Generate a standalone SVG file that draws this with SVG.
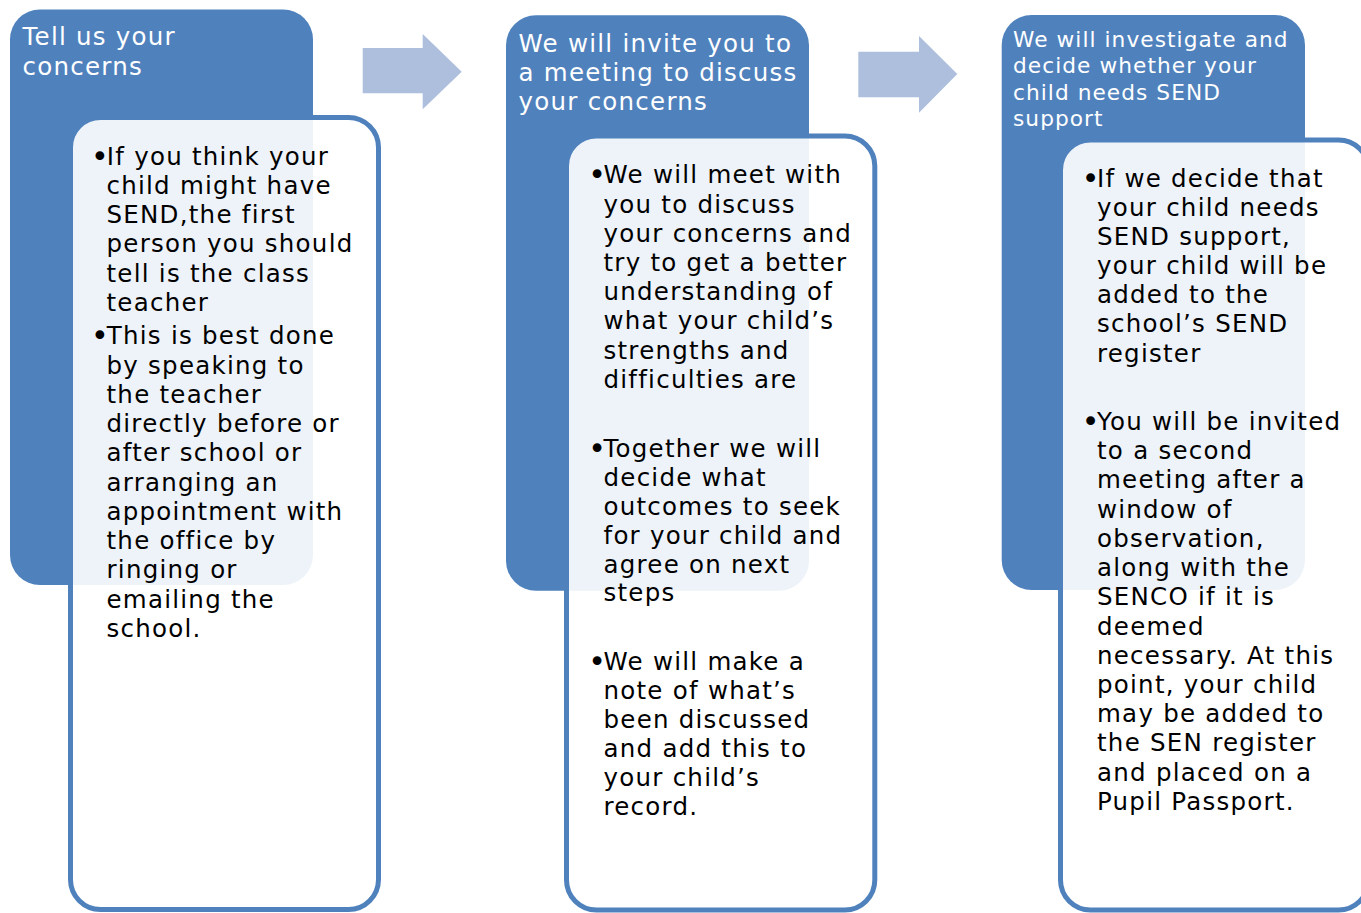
<svg xmlns="http://www.w3.org/2000/svg" width="1361" height="913" viewBox="0 0 1361 913">
<style>
.hdr{fill:#4f81bd;}
.card{fill:#ffffff;fill-opacity:0.9;stroke:#4f81bd;stroke-width:5;}
.arrow{fill:#adbfdd;}
text{font-family:"DejaVu Sans","Verdana",sans-serif;letter-spacing:1.25px;}
.ht{fill:#ffffff;font-size:24.5px;}
.ht3{fill:#ffffff;font-size:21.7px;letter-spacing:1.05px;}
.bt{fill:#000000;font-size:24.5px;}
.bul{fill:#000000;font-size:30px;text-anchor:middle;letter-spacing:0;}
</style>
<rect width="1361" height="913" fill="#ffffff"/>

<g id="connectors">
<polygon class="arrow" points="362.7,48 422.7,48 422.7,34 461.7,71.7 422.7,109.3 422.7,93.3 362.7,93.3"/>
<polygon class="arrow" points="858.3,51.7 919,51.7 919,36 957.3,74 919,112.7 919,97.3 858.3,97.3"/>
</g>

<g id="step1">
<rect class="hdr" x="10" y="9.5" width="303" height="575.5" rx="30" ry="30"/>
<text class="ht"><tspan x="22.5" y="45">Tell us your</tspan><tspan x="22.5" y="75">concerns</tspan></text>
</g>
<g id="detail1">
<rect class="card" x="70.5" y="117.5" width="308" height="792" rx="30" ry="30"/>
<text class="bul" x="99.8" y="167">•</text>
<text class="bt">
<tspan x="106.8" y="165">If you think your</tspan>
<tspan x="106.5" y="194.2">child might have</tspan>
<tspan x="106.5" y="223.3">SEND,the first</tspan>
<tspan x="106.5" y="252.3">person you should</tspan>
<tspan x="106.5" y="281.5">tell is the class</tspan>
<tspan x="106.5" y="310.7">teacher</tspan>
</text>
<text class="bul" x="99.8" y="346.3">•</text>
<text class="bt">
<tspan x="106.8" y="344.3">This is best done</tspan>
<tspan x="106.5" y="373.6">by speaking to</tspan>
<tspan x="106.5" y="402.8">the teacher</tspan>
<tspan x="106.5" y="432.1">directly before or</tspan>
<tspan x="106.5" y="461.3">after school or</tspan>
<tspan x="106.5" y="490.6">arranging an</tspan>
<tspan x="106.5" y="519.8">appointment with</tspan>
<tspan x="106.5" y="549.1">the office by</tspan>
<tspan x="106.5" y="578.3">ringing or</tspan>
<tspan x="106.5" y="607.6">emailing the</tspan>
<tspan x="106.5" y="636.8">school.</tspan>
</text>
</g>

<g id="step2">
<rect class="hdr" x="506" y="15.3" width="303" height="575.4" rx="30" ry="30"/>
<text class="ht"><tspan x="518.5" y="51.7">We will invite you to</tspan><tspan x="518.5" y="80.8">a meeting to discuss</tspan><tspan x="518.5" y="110">your concerns</tspan></text>
</g>
<g id="detail2">
<rect class="card" x="566.5" y="136" width="308.3" height="774" rx="30" ry="30"/>
<text class="bul" x="597" y="185.3">•</text>
<text class="bt">
<tspan x="603.5" y="183.3">We will meet with</tspan>
<tspan x="603.5" y="212.5">you to discuss</tspan>
<tspan x="603.5" y="241.7">your concerns and</tspan>
<tspan x="603.5" y="270.8">try to get a better</tspan>
<tspan x="603.5" y="300">understanding of</tspan>
<tspan x="603.5" y="329.3">what your child’s</tspan>
<tspan x="603.5" y="358.5">strengths and</tspan>
<tspan x="603.5" y="387.7">difficulties are</tspan>
</text>
<text class="bul" x="597" y="458.7">•</text>
<text class="bt">
<tspan x="603.5" y="456.7">Together we will</tspan>
<tspan x="603.5" y="485.8">decide what</tspan>
<tspan x="603.5" y="514.8">outcomes to seek</tspan>
<tspan x="603.5" y="543.8">for your child and</tspan>
<tspan x="603.5" y="572.6">agree on next</tspan>
<tspan x="603.5" y="601.4">steps</tspan>
</text>
<text class="bul" x="597" y="672">•</text>
<text class="bt">
<tspan x="603.5" y="670">We will make a</tspan>
<tspan x="603.5" y="699.1">note of what’s</tspan>
<tspan x="603.5" y="728.2">been discussed</tspan>
<tspan x="603.5" y="757.3">and add this to</tspan>
<tspan x="603.5" y="786.4">your child’s</tspan>
<tspan x="603.5" y="815.4">record.</tspan>
</text>
</g>

<g id="step3">
<rect class="hdr" x="1001.7" y="15" width="303.3" height="575" rx="30" ry="30"/>
<text class="ht3"><tspan x="1013" y="46.7">We will investigate and</tspan><tspan x="1013" y="73.3">decide whether your</tspan><tspan x="1013" y="99.8">child needs SEND</tspan><tspan x="1013" y="126">support</tspan></text>
</g>
<g id="detail3">
<rect class="card" x="1060.5" y="140" width="308" height="770" rx="30" ry="30"/>
<text class="bul" x="1090.5" y="188.7">•</text>
<text class="bt">
<tspan x="1097" y="186.7">If we decide that</tspan>
<tspan x="1097" y="215.8">your child needs</tspan>
<tspan x="1097" y="245">SEND support,</tspan>
<tspan x="1097" y="274.1">your child will be</tspan>
<tspan x="1097" y="303.2">added to the</tspan>
<tspan x="1097" y="332.4">school’s SEND</tspan>
<tspan x="1097" y="361.5">register</tspan>
</text>
<text class="bul" x="1090.5" y="432">•</text>
<text class="bt">
<tspan x="1097" y="430">You will be invited</tspan>
<tspan x="1097" y="459.2">to a second</tspan>
<tspan x="1097" y="488.4">meeting after a</tspan>
<tspan x="1097" y="517.5">window of</tspan>
<tspan x="1097" y="546.7">observation,</tspan>
<tspan x="1097" y="575.9">along with the</tspan>
<tspan x="1097" y="605">SENCO if it is</tspan>
<tspan x="1097" y="634.5">deemed</tspan>
<tspan x="1097" y="663.8">necessary. At this</tspan>
<tspan x="1097" y="693">point, your child</tspan>
<tspan x="1097" y="722.2">may be added to</tspan>
<tspan x="1097" y="751.4">the SEN register</tspan>
<tspan x="1097" y="780.5">and placed on a</tspan>
<tspan x="1097" y="809.5">Pupil Passport.</tspan>
</text>
</g>
</svg>
